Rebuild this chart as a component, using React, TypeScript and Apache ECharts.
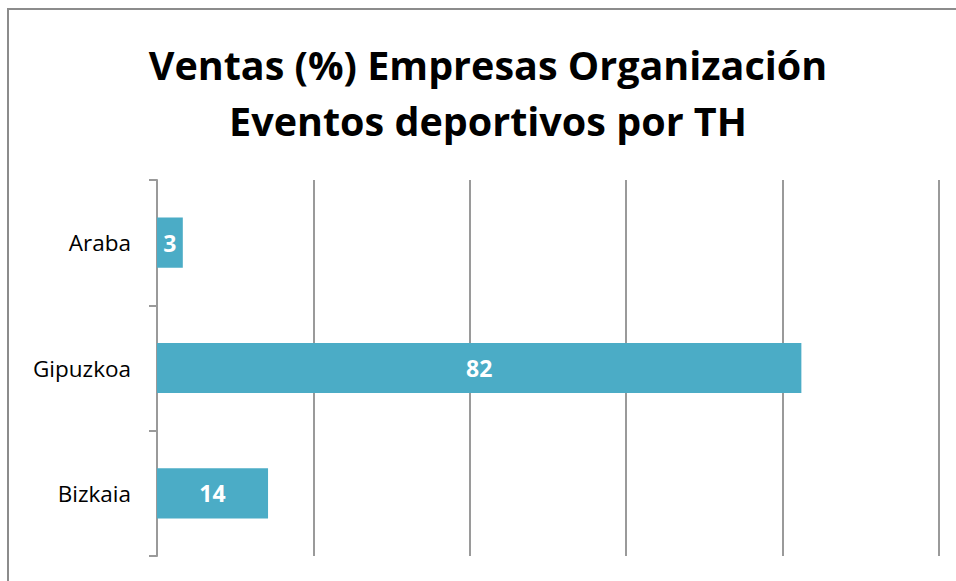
import React, { useEffect, useRef } from "react";
import * as echarts from "echarts";

const categories = ["Araba", "Gipuzkoa", "Bizkaia"];
const values = [3.3, 82.4, 14.2];
const valueLabels = ["3", "82", "14"];
const titleLines = ["Ventas (%) Empresas Organización", "Eventos deportivos por TH"];

export default function App() {
  const ref = useRef<HTMLDivElement>(null);
  useEffect(() => {
    const chart = echarts.init(ref.current!, null, { renderer: "svg" });
    const titleFont = {
      fontFamily: "Open Sans",
      fontWeight: "bold",
      fontSize: 39.5,
      fill: "#000000",
      align: "center",
      verticalAlign: "middle",
    };
    chart.setOption({
      animation: false,
      backgroundColor: "#ffffff",
      graphic: [
        {
          type: "rect",
          shape: { x: 8, y: 9, width: 1000, height: 700 },
          style: { fill: "none", stroke: "#8c8c8c", lineWidth: 2 },
          silent: true,
        },
        {
          type: "text",
          x: 488,
          y: 65,
          style: { ...titleFont, text: titleLines[0] },
          silent: true,
        },
        {
          type: "text",
          x: 488,
          y: 121,
          style: { ...titleFont, text: titleLines[1] },
          silent: true,
        },
      ],
      grid: { left: 157, right: 17, top: 180, bottom: 25 },
      xAxis: {
        type: "value",
        min: 0,
        max: 100,
        interval: 20,
        axisLabel: { show: false },
        axisLine: { show: false },
        axisTick: { show: false },
        splitLine: { show: true, lineStyle: { color: "#9a9a9a", width: 2 } },
      },
      yAxis: {
        type: "category",
        inverse: true,
        data: categories,
        axisLine: { show: true, lineStyle: { color: "#9a9a9a", width: 2 } },
        axisTick: { show: true, length: 8, lineStyle: { color: "#9a9a9a", width: 2 } },
        axisLabel: {
          margin: 26,
          fontFamily: "Open Sans",
          fontSize: 22.5,
          color: "#000000",
        },
      },
      series: [
        {
          type: "bar",
          data: values,
          barWidth: "40%",
          itemStyle: { color: "#4bacc6" },
          label: {
            show: true,
            position: "inside",
            color: "#ffffff",
            fontFamily: "Open Sans",
            fontWeight: "bold",
            fontSize: 23,
            formatter: (p: any) => valueLabels[p.dataIndex],
          },
        },
      ],
    });
    return () => chart.dispose();
  }, []);
  return (
    <div
      ref={ref}
      style={{ position: "fixed", left: 0, top: 0, width: 956, height: 581 }}
    />
  );
}
